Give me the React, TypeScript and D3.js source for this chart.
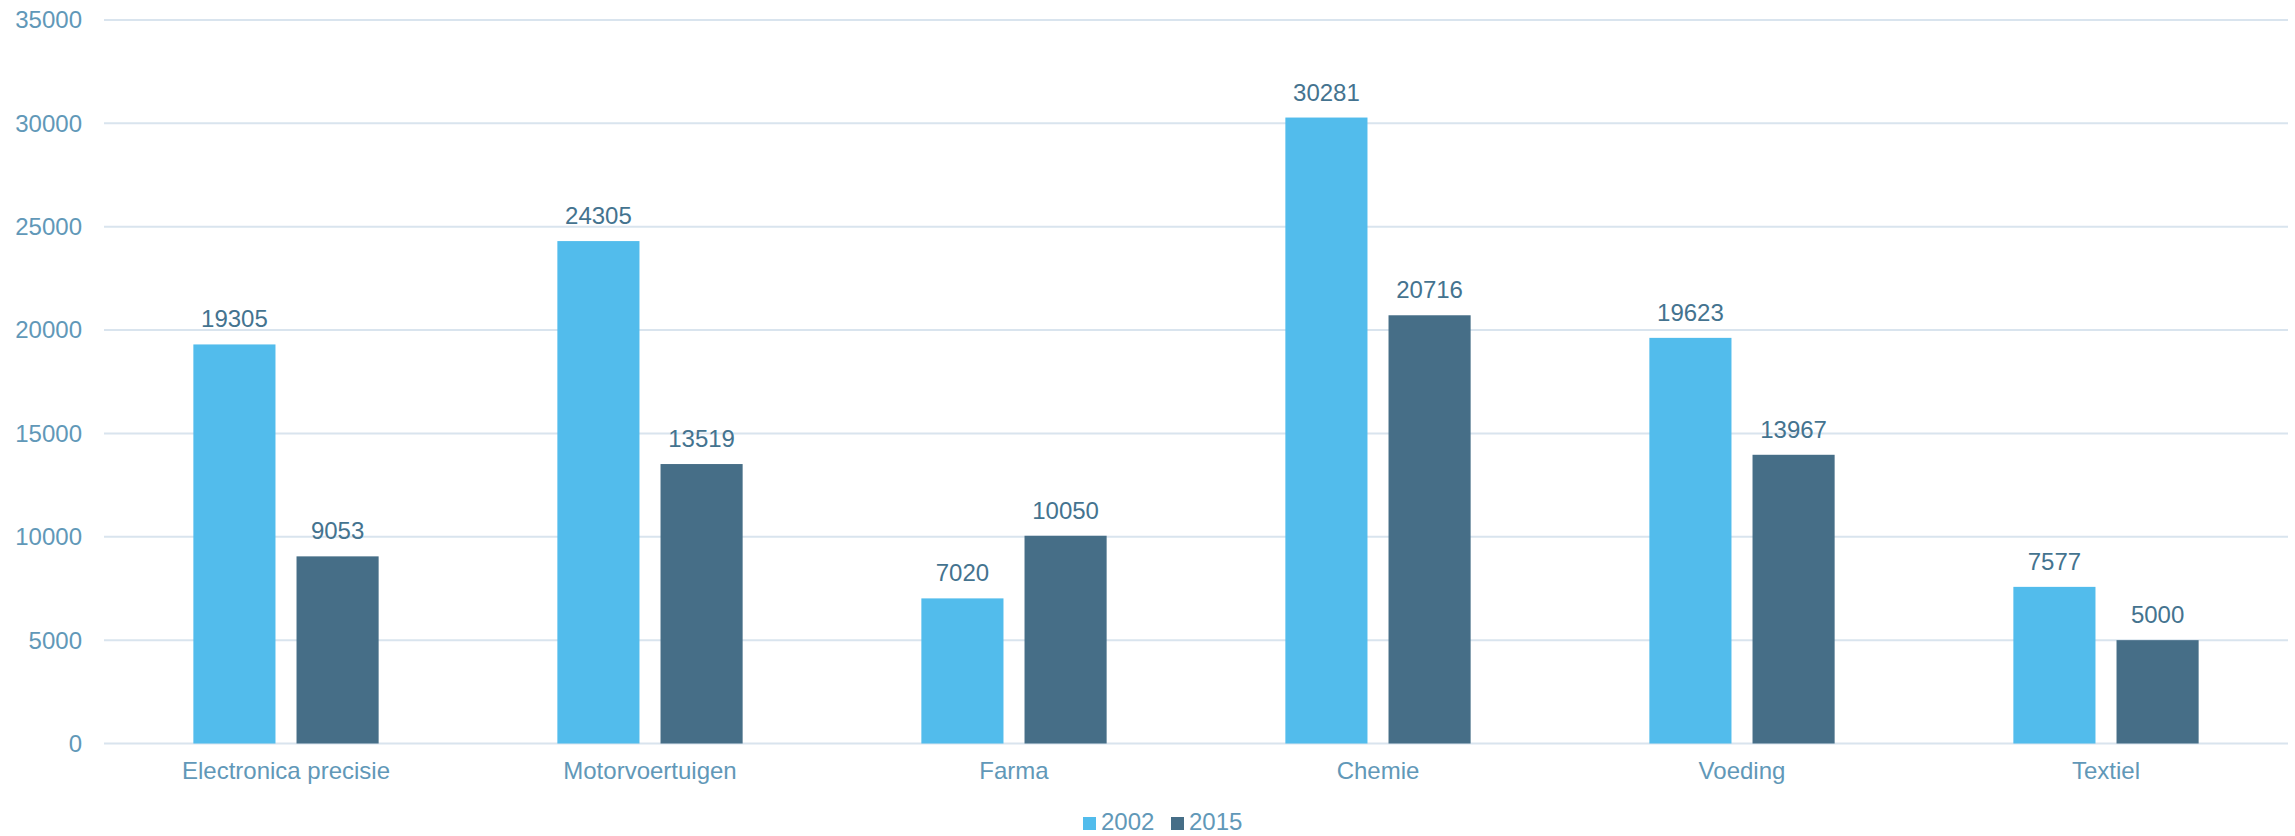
import { useEffect, useRef } from "react";
import * as d3 from "d3";

const CATEGORIES = ["Electronica precisie", "Motorvoertuigen", "Farma", "Chemie", "Voeding", "Textiel"];
const SERIES = ["2002", "2015"];
const VALUES_2002 = [19305, 24305, 7020, 30281, 19623, 7577];
const VALUES_2015 = [9053, 13519, 10050, 20716, 13967, 5000];
const Y_TICKS = [0, 5000, 10000, 15000, 20000, 25000, 30000, 35000];
const COLORS = ["#52bcec", "#466e87"];

const WIDTH = 2295;
const HEIGHT = 836;

export default function App() {
  const svgRef = useRef<SVGSVGElement | null>(null);

  useEffect(() => {
    document.body.style.margin = "0";
    const svgElement = svgRef.current;
    if (!svgElement) return;

    const margin = { top: 20, right: 7, bottom: 92.5, left: 104 };
    const x0 = d3
      .scaleBand()
      .domain(CATEGORIES)
      .range([margin.left, WIDTH - margin.right])
      .paddingInner(0.491)
      .paddingOuter(0.2455);
    const x1 = d3.scaleBand().domain(SERIES).range([0, x0.bandwidth()]).paddingInner(0.204);
    const y = d3.scaleLinear().domain([0, 35000]).range([HEIGHT - margin.bottom, margin.top]);
    const color = d3.scaleOrdinal<string, string>().domain(SERIES).range(COLORS);

    const svg = d3.select(svgElement);
    svg.selectAll("*").remove();
    svg.style("font-family", "'Liberation Sans', Arial, sans-serif");

    // gridlines + y labels
    const grid = svg.append("g");
    grid
      .selectAll("line")
      .data(Y_TICKS)
      .join("line")
      .attr("x1", margin.left)
      .attr("x2", WIDTH - margin.right)
      .attr("y1", (d) => y(d))
      .attr("y2", (d) => y(d))
      .attr("stroke", "#d9e4ee")
      .attr("stroke-width", 2);

    grid
      .selectAll("text")
      .data(Y_TICKS)
      .join("text")
      .attr("x", 82)
      .attr("y", (d) => y(d))
      .attr("dy", "0.35em")
      .attr("text-anchor", "end")
      .attr("font-size", 24)
      .attr("fill", "#6198b8")
      .text((d) => `${d}`);

    const rows = CATEGORIES.map((cat, i) => ({
      cat,
      values: [
        { key: "2002", value: VALUES_2002[i] },
        { key: "2015", value: VALUES_2015[i] },
      ],
    }));

    const groups = svg
      .append("g")
      .selectAll("g")
      .data(rows)
      .join("g")
      .attr("transform", (d) => `translate(${x0(d.cat) ?? 0},0)`);

    groups
      .selectAll("rect")
      .data((d) => d.values)
      .join("rect")
      .attr("x", (d) => x1(d.key) ?? 0)
      .attr("y", (d) => y(d.value))
      .attr("width", x1.bandwidth())
      .attr("height", (d) => y(0) - y(d.value))
      .attr("fill", (d) => color(d.key));

    groups
      .selectAll("text")
      .data((d) => d.values)
      .join("text")
      .attr("x", (d) => (x1(d.key) ?? 0) + x1.bandwidth() / 2)
      .attr("y", (d) => y(d.value) - 17)
      .attr("text-anchor", "middle")
      .attr("font-size", 24)
      .attr("fill", "#44738f")
      .text((d) => `${d.value}`);

    // category labels
    svg
      .append("g")
      .selectAll("text")
      .data(CATEGORIES)
      .join("text")
      .attr("x", (d) => (x0(d) ?? 0) + x0.bandwidth() / 2)
      .attr("y", 779)
      .attr("text-anchor", "middle")
      .attr("font-size", 24)
      .attr("fill", "#6198b8")
      .text((d) => d);

    // legend
    const legend = svg.append("g").attr("transform", "translate(1083, 817)");
    SERIES.forEach((key, index) => {
      const item = legend.append("g").attr("transform", `translate(${index * 88}, 0)`);
      item.append("rect").attr("width", 13).attr("height", 13).attr("fill", color(key));
      item
        .append("text")
        .attr("x", 18)
        .attr("y", 13)
        .attr("font-size", 24)
        .attr("fill", "#6198b8")
        .text(key);
    });
  }, []);

  return <svg ref={svgRef} width={WIDTH} height={HEIGHT} style={{ display: "block" }} />;
}
